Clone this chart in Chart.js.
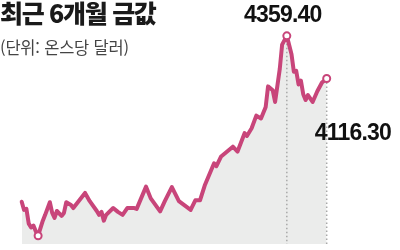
<!DOCTYPE html>
<html lang="ko">
<head>
<meta charset="utf-8">
<title>최근 6개월 금값</title>
<script src="https://cdn.jsdelivr.net/npm/chart.js@4.4.1/dist/chart.umd.min.js"></script>
<style>
  html, body { margin: 0; padding: 0; background: #fff; }
  #wrap { position: relative; width: 400px; height: 250px; overflow: hidden; }
  #wrap canvas { position: absolute; left: 0; top: 0; }
  .ttl {
    position: absolute; left: 0; top: 0; z-index: 2;
    font: 900 25px "Noto Sans CJK KR", sans-serif;
    letter-spacing: -1.3px; line-height: 1; color: #1a1a1a; white-space: nowrap;
  }
  .sub {
    position: absolute; left: 0; top: 39px; z-index: 2;
    font: 400 16.5px "Noto Sans CJK KR", sans-serif;
    letter-spacing: -0.2px; line-height: 1; color: #444; white-space: nowrap;
  }
</style>
</head>
<body>
<div id="wrap">
  <div class="ttl">최근 6개월 금값</div>
  <div class="sub">(단위: 온스당 달러)</div>
  <canvas id="gold-chart"></canvas>
</div>
<script>
/* ── 최근 6개월 국제 금값 (온스당 달러) ── */

// 거래일 순번 (0 = 시작일)
const days = [
  0, 1, 2, 3, 4, 5, 6, 7, 9, 10, 12, 13, 14, 15, 17, 18, 19, 21, 22, 27,
  29, 32, 33, 34, 35, 36, 39, 41, 43, 45, 48, 49, 53, 55, 59, 61, 64, 67, 72, 74,
  76, 78, 82, 83, 85, 90, 92, 95, 96, 98, 100, 102, 104, 105, 107, 108, 110, 111, 113, 115,
  116, 117, 118, 119, 120, 121, 122, 124, 126, 128, 130,
];

// 종가
const prices = [
  3413, 3366, 3372, 3288, 3266, 3277, 3244, 3219, 3305, 3338, 3410, 3349, 3321, 3360, 3332, 3349, 3410, 3394, 3377, 3463,
  3416, 3360, 3338, 3355, 3305, 3338, 3377, 3355, 3338, 3377, 3377, 3372, 3499, 3432, 3358, 3416, 3496, 3416, 3366, 3421,
  3421, 3505, 3632, 3616, 3671, 3727, 3699, 3804, 3788, 3832, 3904, 3888, 3954, 4071, 4049, 3982, 4171, 4309, 4359.40, 4254,
  4154, 4160, 4082, 4104, 4026, 3993, 4021, 3982, 4043, 4093, 4116.30,
];

const Y_MIN = 3171.7;
const Y_MAX = 4392.7;

const LINE = '#c8457a';
const AREA = '#ebeceb';

const minIdx = prices.indexOf(Math.min(...prices));
const peakIdx = prices.indexOf(Math.max(...prices));
const lastIdx = prices.length - 1;
const marked = [minIdx, peakIdx, lastIdx];

const fmt = (v) => v.toFixed(2);

// 점선 가이드 + 수치 라벨
const goldDecor = {
  id: 'goldDecor',
  beforeDatasetDraw(chart) {
    const { ctx, chartArea } = chart;
    const pts = chart.getDatasetMeta(0).data;
    ctx.save();
    ctx.strokeStyle = '#a8a8a8';
    ctx.lineWidth = 1.5;
    ctx.setLineDash([1.5, 2.5]);
    [peakIdx, lastIdx].forEach(i => {
      const p = pts[i];
      ctx.beginPath();
      ctx.moveTo(p.x, p.y);
      ctx.lineTo(p.x, chartArea.bottom);
      ctx.stroke();
    });
    ctx.restore();
  },
  afterDatasetsDraw(chart) {
    const { ctx } = chart;
    const pts = chart.getDatasetMeta(0).data;
    ctx.save();
    ctx.fillStyle = '#111';
    ctx.font = 'bold 23px "Liberation Sans", Arial, sans-serif';
    if ('letterSpacing' in ctx) ctx.letterSpacing = '-0.8px';
    ctx.textBaseline = 'alphabetic';

    const pk = pts[peakIdx];
    ctx.textAlign = 'center';
    ctx.fillText(fmt(prices[peakIdx]), pk.x - 4, pk.y - 14);

    const ls = pts[lastIdx];
    ctx.textAlign = 'left';
    ctx.fillText(fmt(prices[lastIdx]), ls.x - 12, ls.y + 61.5);
    ctx.restore();
  },
};

const canvas = document.getElementById('gold-chart');
new Chart(canvas, {
  type: 'line',
  data: {
    datasets: [{
      label: '금값',
      data: days.map((d, i) => ({ x: d, y: prices[i] })),
      borderColor: LINE,
      borderWidth: 4,
      borderJoinStyle: 'round',
      borderCapStyle: 'round',
      backgroundColor: AREA,
      fill: 'start',
      tension: 0,
      clip: false,
      pointRadius: (c) => marked.includes(c.dataIndex) ? 3.5 : 0,
      pointBorderWidth: 2,
      pointBackgroundColor: '#fff',
      pointBorderColor: LINE,
    }],
  },
  options: {
    responsive: true,
    maintainAspectRatio: false,
    animation: false,
    layout: { padding: { left: 21.7, right: 73.3, top: 30, bottom: 0 } },
    plugins: {
      legend: { display: false },
      tooltip: { enabled: false },
    },
    scales: {
      x: { type: 'linear', display: false, min: days[0], max: days[lastIdx] },
      y: { display: false, min: Y_MIN, max: Y_MAX },
    },
  },
  plugins: [goldDecor],
});
</script>
</body>
</html>
